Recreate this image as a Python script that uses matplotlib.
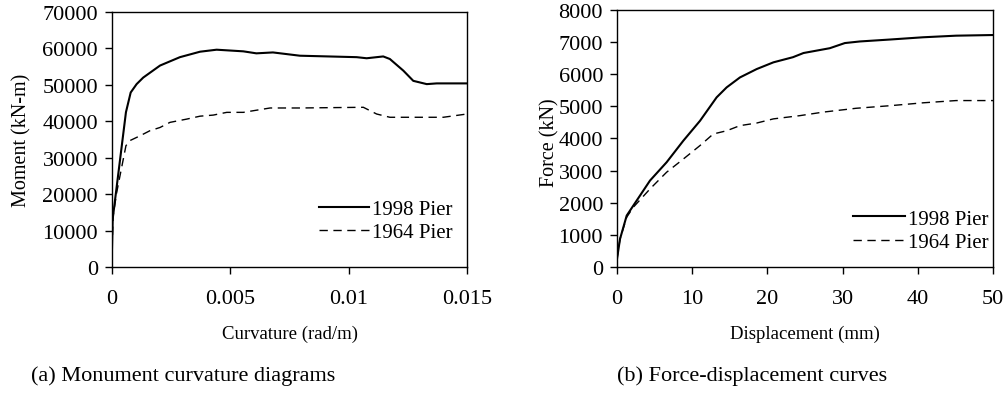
import matplotlib
matplotlib.use("Agg")
import matplotlib.pyplot as plt

plt.rcParams["font.family"] = ["Liberation Serif", "DejaVu Serif"]

# (a) moment-curvature data
curv_1998 = [0, 0.00003, 0.00059, 0.00079, 0.00104, 0.00132, 0.00203, 0.00287, 0.00372,
             0.00442, 0.00555, 0.0061, 0.0068, 0.00794, 0.01034, 0.01076, 0.01146,
             0.01174, 0.01231, 0.01273, 0.0133, 0.01372, 0.015]
moment_1998 = [5000, 13200, 42500, 47900, 50200, 52000, 55300, 57600, 59100,
               59650, 59200, 58650, 58900, 58000, 57600, 57300, 57800,
               57100, 53900, 51100, 50200, 50400, 50400]

curv_1964 = [0, 0.00005, 0.0002, 0.00059, 0.00076, 0.00118, 0.0016, 0.00203, 0.00245,
             0.00316, 0.00372, 0.00428, 0.00485, 0.00555, 0.00668, 0.00794, 0.01062,
             0.01118, 0.01174, 0.014, 0.015]
moment_1964 = [5000, 14100, 20500, 33300, 34700, 36000, 37400, 38300, 39700,
               40600, 41400, 41700, 42450, 42450, 43650, 43650, 43840,
               42000, 41100, 41100, 42000]

# (b) force-displacement data
disp_1998 = [0, 0.4, 1.29, 2.17, 4.39, 6.6, 8.82, 11.04, 13.25, 14.58, 16.35, 18.57,
             20.8, 23.4, 24.8, 28.3, 30.3, 32.3, 36.3, 40.7, 45.1, 50]
force_1998 = [250, 870, 1600, 1910, 2690, 3260, 3930, 4550, 5280, 5590, 5900, 6160,
              6370, 6530, 6660, 6810, 6970, 7020, 7080, 7150, 7200, 7220]

disp_1964 = [0, 0.4, 1.29, 2.17, 4.39, 6.6, 8.82, 11.04, 12.8, 14.58, 16.35, 18.57,
             20.8, 24.3, 27.4, 31.8, 36.3, 40.7, 45.1, 50]
force_1964 = [250, 870, 1550, 1860, 2430, 2950, 3360, 3780, 4140, 4240, 4400, 4480,
              4610, 4710, 4820, 4940, 5020, 5110, 5180, 5180]

labels = ["1998 Pier", "1964 Pier"]

fig = plt.figure(figsize=(10.08, 4.14), dpi=100)
ax1 = fig.add_axes([0.1111, 0.3527, 0.3522, 0.6159])
ax2 = fig.add_axes([0.6121, 0.3527, 0.3730, 0.6208])

def style(ax):
    for s in ax.spines.values():
        s.set_linewidth(1.0)
    ax.tick_params(axis="both", direction="out", length=5, width=1, labelsize=16)
    ax.tick_params(axis="x", pad=11)
    ax.tick_params(axis="y", pad=5)

ax1.plot(curv_1998, moment_1998, color="black", lw=1.5, label=labels[0])
ax1.plot(curv_1964, moment_1964, color="black", lw=1.0, ls=(0, (6, 4)), label=labels[1])
ax1.set_xlim(0, 0.015)
ax1.set_ylim(0, 70000)
ax1.set_xticks([0, 0.005, 0.01, 0.015])
ax1.set_xticklabels(["0", "0.005", "0.01", "0.015"])
ax1.set_yticks(range(0, 70001, 10000))
ax1.set_xlabel("Curvature (rad/m)", fontsize=13.5)
ax1.set_ylabel("Moment (kN-m)", fontsize=14.5)
ax1.xaxis.set_label_coords(0.501, -0.225)
ax1.yaxis.set_label_coords(-0.228, 0.5)
style(ax1)

ax2.plot(disp_1998, force_1998, color="black", lw=1.5, label=labels[0])
ax2.plot(disp_1964, force_1964, color="black", lw=1.0, ls=(0, (6, 4)), label=labels[1])
ax2.set_xlim(0, 50)
ax2.set_ylim(0, 8000)
ax2.set_xticks(range(0, 51, 10))
ax2.set_yticks(range(0, 8001, 1000))
ax2.set_xlabel("Displacement (mm)", fontsize=13.5)
ax2.set_ylabel("Force (kN)", fontsize=14.5)
ax2.xaxis.set_label_coords(0.5, -0.223)
ax2.yaxis.set_label_coords(-0.152, 0.486)
style(ax2)

ax1.legend(loc="lower right", bbox_to_anchor=(1.0, 0.04), frameon=False, fontsize=15,
           handlelength=2.4, handletextpad=0.15, labelspacing=0.15, borderaxespad=0.3)
ax2.legend(loc="lower right", bbox_to_anchor=(1.028, 0.0), frameon=False, fontsize=15,
           handlelength=2.5, handletextpad=0.15, labelspacing=0.2, borderaxespad=0.3)

fig.text(0.182, 0.092, "(a) Monument curvature diagrams", ha="center", va="center", fontsize=16)
fig.text(0.746, 0.092, "(b) Force-displacement curves", ha="center", va="center", fontsize=16)

fig.savefig("out.png", dpi=100)
